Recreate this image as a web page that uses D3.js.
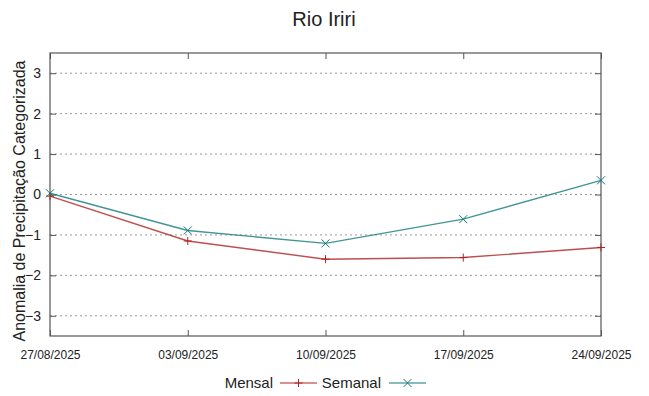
<!DOCTYPE html>
<html>
<head>
<meta charset="utf-8">
<script src="https://cdn.jsdelivr.net/npm/d3@7"></script>
<style>
  body { margin: 0; background: #fff; }
  text { font-family: "Liberation Sans", Arial, sans-serif; fill: #222; }
</style>
</head>
<body>
<div id="chart"></div>
<script>
const dates = ["27/08/2025", "03/09/2025", "10/09/2025", "17/09/2025", "24/09/2025"];
const mensal = [-0.04, -1.15, -1.60, -1.56, -1.31];
const semanal = [0.03, -0.89, -1.21, -0.61, 0.35];
const yTicks = [-3, -2, -1, 0, 1, 2, 3];

const W = 649, H = 396;
const m = { top: 53, right: 48, bottom: 60, left: 50 };
const svg = d3.select("#chart").append("svg")
    .attr("width", W).attr("height", H);

const x = d3.scalePoint().domain(dates).range([m.left, W - m.right]);
const y = d3.scaleLinear().domain([-3.5, 3.5]).range([H - m.bottom, m.top]);

// grid
svg.append("g").selectAll("line").data(yTicks).join("line")
    .attr("x1", m.left).attr("x2", W - m.right)
    .attr("y1", d => y(d)).attr("y2", d => y(d))
    .attr("stroke", "#999").attr("stroke-width", 1)
    .attr("stroke-dasharray", "2,3");

// axes
const axisStyle = g => {
    g.select(".domain").remove();
    g.selectAll(".tick line").attr("stroke", "#555");
};
svg.append("g").attr("transform", `translate(0,${H - m.bottom})`)
    .call(d3.axisBottom(x).tickSizeInner(-6).tickSizeOuter(0).tickPadding(14))
    .call(axisStyle)
    .call(g => g.selectAll("text").attr("font-size", 12).attr("fill", "#222"));
svg.append("g").attr("transform", `translate(0,${m.top})`)
    .call(d3.axisTop(x).tickSizeInner(-6).tickSizeOuter(0).tickFormat(""))
    .call(axisStyle);
svg.append("g").attr("transform", `translate(${m.left},0)`)
    .call(d3.axisLeft(y).tickValues(yTicks).tickSizeInner(-6).tickSizeOuter(0).tickPadding(9).tickFormat(d3.format("d")))
    .call(axisStyle)
    .call(g => g.selectAll("text").attr("font-size", 14).attr("fill", "#222"));
svg.append("g").attr("transform", `translate(${W - m.right},0)`)
    .call(d3.axisRight(y).tickValues(yTicks).tickSizeInner(-6).tickSizeOuter(0).tickFormat(""))
    .call(axisStyle);

svg.append("rect")
    .attr("x", m.left).attr("y", m.top)
    .attr("width", W - m.left - m.right).attr("height", H - m.top - m.bottom)
    .attr("fill", "none").attr("stroke", "#555").attr("stroke-width", 1.2);

// series
const series = [
    { name: "Mensal", values: mensal, color: "#b22222", sym: "plus" },
    { name: "Semanal", values: semanal, color: "#137a7a", sym: "cross" }
];
const line = d3.line().x((d, i) => x(dates[i])).y(d => y(d));
const marker = (g, sym, color) => {
    const s = 4;
    const p = sym === "plus"
        ? `M${-s},0H${s}M0,${-s}V${s}`
        : `M${-s},${-s}L${s},${s}M${-s},${s}L${s},${-s}`;
    g.append("path").attr("d", p).attr("stroke", color).attr("stroke-width", 1).attr("fill", "none");
};
series.forEach(s => {
    svg.append("path").datum(s.values)
        .attr("d", line).attr("fill", "none")
        .attr("stroke", s.color).attr("stroke-width", 1.4).attr("stroke-opacity", 0.8);
    s.values.forEach((v, i) => {
        const g = svg.append("g").attr("transform", `translate(${x(dates[i])},${y(v)})`);
        marker(g, s.sym, s.color);
    });
});

// title
svg.append("text").attr("x", 324).attr("y", 26).attr("text-anchor", "middle")
    .attr("font-size", 20).text("Rio Iriri");

// y label
svg.append("text")
    .attr("transform", `translate(25,201) rotate(-90)`)
    .attr("text-anchor", "middle").attr("font-size", 16)
    .text("Anomalia de Precipitação Categorizada");

// legend
const legendItems = [
    { name: "Mensal", tx: 273, lx: 280, color: "#b22222", sym: "plus" },
    { name: "Semanal", tx: 381, lx: 389, color: "#137a7a", sym: "cross" }
];
const ly = 383;
legendItems.forEach(l => {
    svg.append("text").attr("x", l.tx).attr("y", ly + 5).attr("text-anchor", "end")
        .attr("font-size", 15).text(l.name);
    svg.append("line").attr("x1", l.lx).attr("x2", l.lx + 37)
        .attr("y1", ly).attr("y2", ly).attr("stroke", l.color).attr("stroke-width", 1.2);
    const g = svg.append("g").attr("transform", `translate(${l.lx + 18.5},${ly})`);
    marker(g, l.sym, l.color);
});
</script>
</body>
</html>
